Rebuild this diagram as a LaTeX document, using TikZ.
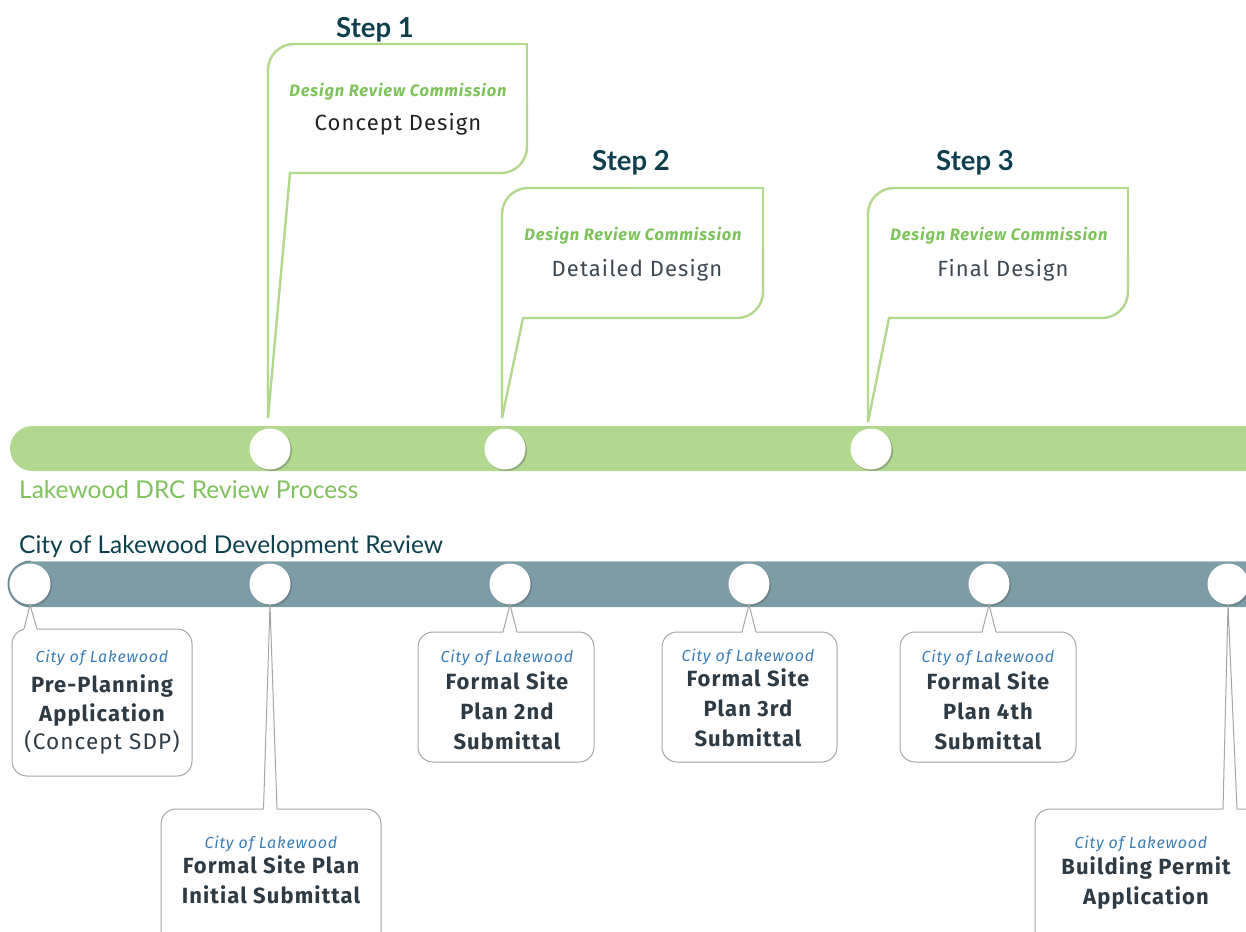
\documentclass[tikz,border=0pt]{standalone}
\usepackage{fontspec}
\setmainfont{Fira Sans}
\newfontfamily\bodyfont{Fira Sans}[LetterSpace=5]
\newfontfamily\hfont{Lato}
\usetikzlibrary{shadows}
\definecolor{grnbar}{HTML}{B2D78F}
\definecolor{grnline}{HTML}{B2D88E}
\definecolor{grntext}{HTML}{7DC25A}
\definecolor{tealdark}{HTML}{0E3F4F}
\definecolor{tealbar}{HTML}{7C9DA6}
\definecolor{tealedge}{HTML}{B5C6CA}
\definecolor{gryline}{HTML}{A5A5A5}
\definecolor{cityblue}{HTML}{3B7DB6}
\definecolor{bodydark}{HTML}{2E3B44}
\definecolor{designgray}{HTML}{3D4852}
\begin{document}
\begin{tikzpicture}[x=1pt,y=-1pt,
  grncall/.style={draw=grnline, line width=2.4pt},
  grycall/.style={draw=gryline, line width=1pt},
  dot/.style={circle, fill=white, minimum size=41pt, inner sep=0pt,
    drop shadow={shadow xshift=1.5pt, shadow yshift=-1.5pt, opacity=0.35, fill=black!70}},
  stepttl/.style={font=\hfont\bfseries\fontsize{27.5}{30}\selectfont, text=tealdark, anchor=base, inner sep=0pt},
  drc/.style={font=\bodyfont\bfseries\itshape\fontsize{16.5}{19}\selectfont, text=grntext, anchor=base, inner sep=0pt},
  dsg/.style={font=\bodyfont\fontsize{22}{26}\selectfont, anchor=base, inner sep=0pt},
  cof/.style={font=\bodyfont\itshape\fontsize{16}{19}\selectfont, text=cityblue, anchor=base, inner sep=0pt},
  bl/.style={font=\bodyfont\bfseries\fontsize{22}{26}\selectfont, text=bodydark, anchor=base, inner sep=0pt},
  rg/.style={font=\bodyfont\fontsize{22.5}{26}\selectfont, text=bodydark, anchor=base, inner sep=0pt},
  barttl/.style={font=\hfont\fontsize{24.5}{28}\selectfont, anchor=base west, inner sep=0pt}
]
\useasboundingbox (0,0) rectangle (1246,931);
\clip (0,0) rectangle (1246,931);

% ---------- bars ----------
\fill[grnbar, rounded corners=22.5pt] (10,426) rectangle (1270,471);
\fill[tealbar, rounded corners=23pt] (8,561) rectangle (1270,607);
\draw[tealedge, line width=1pt] (30,561) -- (1246,561);
\draw[tealbar!85!black, line width=1pt] (31,607) arc[start angle=270, end angle=90, radius=23pt];

% ---------- circles ----------
\node[dot] (g1) at (270,449) {};
\node[dot] (g2) at (505,449) {};
\node[dot] (g3) at (871,449) {};
\node[dot] (c1) at (30,584) {};
\node[dot] (c2) at (270,584) {};
\node[dot] (c3) at (510,584) {};
\node[dot] (c4) at (749,584) {};
\node[dot] (c5) at (989,584) {};
\node[dot] (c6) at (1228,584) {};

% ---------- bar titles ----------
\node[barttl, text=grntext] (drctitle) at (19,498) {Lakewood DRC Review Process};
\node[barttl, text=tealdark] (citytitle) at (19,553) {City of Lakewood Development Review};

% ---------- green callouts ----------
\coordinate (t1) at (268,418);
\coordinate (t2) at (502,418);
\coordinate (t3) at (868,422);
% Step 1
\draw[grncall, rounded corners=26pt] (t1) -- (268,44) -- (400,44);
\draw[grncall] (400,44) -- (527,44) -- (527,100);
\draw[grncall, rounded corners=26pt] (527,100) -- (527,173) -- (400,173);
\draw[grncall] (400,173) -- (290,173) -- (t1);
% Step 2
\draw[grncall, rounded corners=26pt] (t2) -- (502,188) -- (630,188);
\draw[grncall] (630,188) -- (763,188) -- (763,250);
\draw[grncall, rounded corners=26pt] (763,250) -- (763,318) -- (630,318);
\draw[grncall] (630,318) -- (523,318) -- (t2);
% Step 3
\draw[grncall, rounded corners=26pt] (t3) -- (868,188) -- (1000,188);
\draw[grncall] (1000,188) -- (1128,188) -- (1128,250);
\draw[grncall, rounded corners=26pt] (1128,250) -- (1128,318) -- (1000,318);
\draw[grncall] (1000,318) -- (889,318) -- (t3);

\node[stepttl] (s1) at (375,38) {Step 1};
\node[stepttl] (s2) at (631,170) {Step 2};
\node[stepttl] (s3) at (975,170) {Step 3};
\node[drc] (d1) at (398,97) {Design Review Commission};
\node[drc] (d2) at (633,240) {Design Review Commission};
\node[drc] (d3) at (999,240) {Design Review Commission};
\node[dsg, text=black!87] (cd) at (398,131) {Concept Design};
\node[dsg, text=designgray] (dd) at (637,276) {Detailed Design};
\node[dsg, text=designgray] (fd) at (1003,276) {Final Design};

% ---------- gray callouts ----------
% 1 Pre-Planning
\draw[grycall, rounded corners=15pt] (12,629) rectangle (192,776);
\fill[white] (24,630.3) -- (c1.south) -- (37,630.3) -- cycle;
\draw[grycall] (24,629) -- (c1.south) -- (37,629);
% 2 Initial
\draw[grycall, rounded corners=15pt] (161,809) rectangle (381,990);
\fill[white] (263.5,810.3) -- (c2.south) -- (277,810.3) -- cycle;
\draw[grycall] (263.5,809) -- (c2.south) -- (277,809);
% 3 2nd
\draw[grycall, rounded corners=15pt] (418,632) rectangle (594,762);
\fill[white] (503,633.3) -- (c3.south) -- (517,633.3) -- cycle;
\draw[grycall] (503,632) -- (c3.south) -- (517,632);
% 4 3rd
\draw[grycall, rounded corners=15pt] (662,632) rectangle (837,762);
\fill[white] (742,633.3) -- (c4.south) -- (756,633.3) -- cycle;
\draw[grycall] (742,632) -- (c4.south) -- (756,632);
% 5 4th
\draw[grycall, rounded corners=15pt] (900,632) rectangle (1076,762);
\fill[white] (982,633.3) -- (c5.south) -- (996,633.3) -- cycle;
\draw[grycall] (982,632) -- (c5.south) -- (996,632);
% 6 Building
\draw[grycall, rounded corners=15pt] (1035,809) rectangle (1290,990);
\fill[white] (1223,810.3) -- (c6.south) -- (1237,810.3) -- cycle;
\draw[grycall] (1223,809) -- (c6.south) -- (1237,809);

% texts
\node[cof] (p0) at (102,662) {City of Lakewood};
\node[bl]  (p1) at (102,692) {Pre-Planning};
\node[bl]  (p2) at (102,721) {Application};
\node[rg]  (p3) at (102,749) {(Concept SDP)};

\node[cof] (i0) at (271,848) {City of Lakewood};
\node[bl]  (i1) at (271,873) {Formal Site Plan};
\node[bl]  (i2) at (271,903) {Initial Submittal};

\node[cof] (a0) at (507,662) {City of Lakewood};
\node[bl]  (a1) at (507,689) {Formal Site};
\node[bl]  (a2) at (507,719) {Plan 2nd};
\node[bl]  (a3) at (507,749) {Submittal};

\node[cof] (b0) at (748,661) {City of Lakewood};
\node[bl]  (b1) at (748,686) {Formal Site};
\node[bl]  (b2) at (748,716) {Plan 3rd};
\node[bl]  (b3) at (748,746) {Submittal};

\node[cof] (e0) at (988,662) {City of Lakewood};
\node[bl]  (e1) at (988,689) {Formal Site};
\node[bl]  (e2) at (988,719) {Plan 4th};
\node[bl]  (e3) at (988,749) {Submittal};

\node[cof] (f0) at (1141,848) {City of Lakewood};
\node[bl]  (f1) at (1146,874) {Building Permit};
\node[bl]  (f2) at (1146,904) {Application};
\end{tikzpicture}
\end{document}
